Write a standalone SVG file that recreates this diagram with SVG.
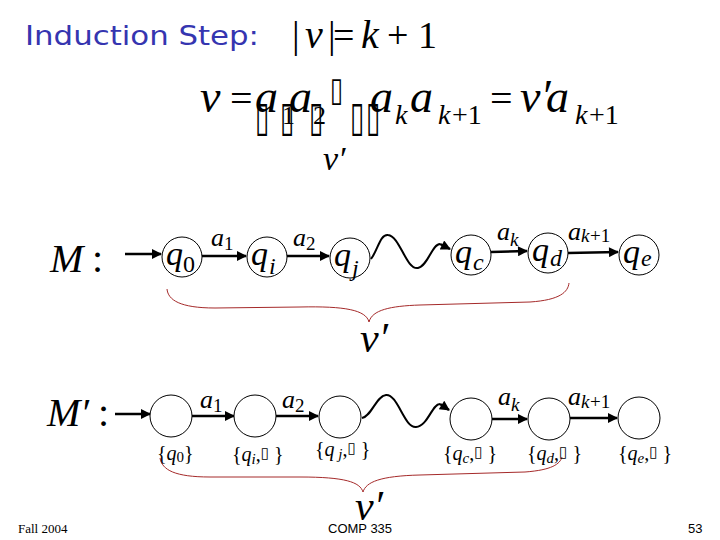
<svg xmlns="http://www.w3.org/2000/svg" width="720" height="540" viewBox="0 0 720 540">
<defs>
<style>
.m{font-family:"Liberation Serif","Tinos","Times New Roman","DejaVu Serif",serif;font-style:italic;fill:#000}
.r{font-family:"Liberation Serif","Tinos","Times New Roman","DejaVu Serif",serif;fill:#000}
.tofu{font-family:"DejaVu Sans",sans-serif;fill:#000}
.st{fill:#fff;stroke:#000;stroke-width:1}
.ed{fill:none;stroke:#000;stroke-width:2.5}
.wv{fill:none;stroke:#000;stroke-width:2}
.br{fill:none;stroke:#a52a2a;stroke-width:1}
.ft{font-family:"Liberation Sans",sans-serif;font-size:13px;fill:#000}
</style>
<marker id="ah" viewBox="0 0 10 10" refX="9" refY="5" markerWidth="5" markerHeight="4" markerUnits="strokeWidth" orient="auto">
<path d="M0,0 L10,5 L0,10 z" fill="#000"/>
</marker>
</defs>
<rect width="720" height="540" fill="#fff"/>

<g id="title">
<text x="25" y="45" font-family="DejaVu Sans, sans-serif" font-size="26" fill="#3535b0" textLength="234" lengthAdjust="spacingAndGlyphs">Induction Step:</text>
<text class="r" x="292" y="48" font-size="38">|</text>
<text class="m" x="305" y="48" font-size="40">v</text>
<text class="r" x="328" y="48" font-size="38">|</text>
<text class="r" x="333" y="48" font-size="38">=</text>
<text class="m" x="361" y="48" font-size="40">k</text>
<text class="r" x="387" y="48" font-size="38">+</text>
<text class="r" x="418" y="48" font-size="38">1</text>
</g>

<g id="equation">
<text class="m" x="200" y="112" font-size="46">v</text>
<text class="r" x="230" y="112" font-size="40">=</text>
<text class="m" x="255" y="112" font-size="46">a</text>
<text class="r" x="282" y="124" font-size="26">1</text>
<text class="m" x="289" y="112" font-size="46">a</text>
<text class="r" x="313" y="124" font-size="26">2</text>
<text class="tofu" font-size="24" transform="translate(330,101) scale(1,1.4)">▯</text>
<text class="tofu" font-size="26" transform="translate(255,131) scale(1,1.6)">▯</text>
<text class="tofu" font-size="26" transform="translate(280,131) scale(1,1.6)">▯</text>
<text class="tofu" font-size="26" transform="translate(309,131) scale(1,1.6)">▯</text>
<text class="tofu" font-size="26" transform="translate(350,131) scale(1,1.6)">▯</text>
<text class="tofu" font-size="26" transform="translate(366,131) scale(1,1.6)">▯</text>
<text class="m" x="370" y="112" font-size="46">a</text>
<text class="m" x="395" y="124" font-size="28">k</text>
<text class="m" x="410" y="112" font-size="46">a</text>
<text class="m" x="438" y="124" font-size="28">k</text>
<text class="r" x="452" y="124" font-size="28">+1</text>
<text class="r" x="490" y="112" font-size="40">=</text>
<text class="m" x="520" y="112" font-size="46">v′</text>
<text class="m" x="546" y="112" font-size="46">a</text>
<text class="m" x="575" y="124" font-size="28">k</text>
<text class="r" x="589" y="124" font-size="28">+1</text>
<text class="m" x="323" y="170" font-size="34">v′</text>
</g>

<g id="connectors">
<line class="ed" x1="125" y1="254" x2="161" y2="254" marker-end="url(#ah)"/>
<line class="ed" x1="202" y1="256" x2="246" y2="256" marker-end="url(#ah)"/>
<line class="ed" x1="287" y1="256" x2="329" y2="256" marker-end="url(#ah)"/>
<path class="wv" d="M371,259 C378,250 380,234 388,235 C400,236 406,270 418,268 C428,266 432,244 440,244" />
<line class="ed" x1="440" y1="244" x2="450" y2="249" marker-end="url(#ah)"/>
<line class="ed" x1="491" y1="252" x2="527" y2="251" marker-end="url(#ah)"/>
<line class="ed" x1="568" y1="253" x2="618" y2="252" marker-end="url(#ah)"/>

<line class="ed" x1="115" y1="414" x2="150" y2="414" marker-end="url(#ah)"/>
<line class="ed" x1="192" y1="416" x2="234" y2="416" marker-end="url(#ah)"/>
<line class="ed" x1="276" y1="416" x2="318" y2="416" marker-end="url(#ah)"/>
<path class="wv" d="M362,418 C372,416 376,396 386,395 C398,394 404,428 416,427 C428,426 432,404 440,404" />
<line class="ed" x1="440" y1="404" x2="449" y2="410" marker-end="url(#ah)"/>
<line class="ed" x1="492" y1="419" x2="527" y2="419" marker-end="url(#ah)"/>
<line class="ed" x1="570" y1="418" x2="617" y2="418" marker-end="url(#ah)"/>

<path class="br" d="M167,289 C168,300 180,308 215,308 L300,307 C345,306 366,310 369,322 C372,310 390,306 420,305 L530,302 C560,300 568,292 569,283"/>
<path class="br" d="M160,458 C162,470 175,477 210,477 L300,477 C345,477 360,482 363,492 C366,482 380,476 420,475 L525,472 C552,470 560,464 562,457"/>
</g>

<g id="labels">
<text class="m" x="50" y="272" font-size="40">M</text>
<text class="r" x="92" y="272" font-size="40">:</text>
<text class="m" x="211" y="246" font-size="26">a</text>
<text class="r" x="224" y="250" font-size="19">1</text>
<text class="m" x="293" y="246" font-size="26">a</text>
<text class="r" x="306" y="250" font-size="19">2</text>
<text class="m" x="497" y="240" font-size="26">a</text>
<text class="m" x="510" y="246" font-size="19">k</text>
<text class="m" x="568" y="240" font-size="26">a</text>
<text class="m" x="581" y="242" font-size="19">k</text>
<text class="r" x="590" y="242" font-size="19">+1</text>
<text class="m" x="360" y="352" font-size="42">v′</text>

<text class="m" x="47" y="426" font-size="40">M′</text>
<text class="r" x="98" y="426" font-size="40">:</text>
<text class="m" x="200" y="408" font-size="26">a</text>
<text class="r" x="213" y="412" font-size="19">1</text>
<text class="m" x="282" y="408" font-size="26">a</text>
<text class="r" x="295" y="412" font-size="19">2</text>
<text class="m" x="498" y="405" font-size="26">a</text>
<text class="m" x="511" y="411" font-size="19">k</text>
<text class="m" x="568" y="405" font-size="26">a</text>
<text class="m" x="581" y="408" font-size="19">k</text>
<text class="r" x="590" y="408" font-size="19">+1</text>
<text class="m" x="355" y="520" font-size="42">v′</text>
</g>

<g id="q0"><circle class="st" cx="182" cy="257" r="20"/><text class="m" x="166" y="265" font-size="34">q</text><text class="r" x="183" y="272" font-size="24">0</text></g>
<g id="qi"><circle class="st" cx="267" cy="257" r="20"/><text class="m" x="251" y="265" font-size="34">q</text><text class="m" x="269" y="274" font-size="24">i</text></g>
<g id="qj"><circle class="st" cx="350" cy="258" r="20"/><text class="m" x="334" y="266" font-size="34">q</text><text class="m" x="352" y="276" font-size="24">j</text></g>
<g id="qc"><circle class="st" cx="471" cy="255" r="20"/><text class="m" x="455" y="263" font-size="34">q</text><text class="m" x="473" y="270" font-size="24">c</text></g>
<g id="qd"><circle class="st" cx="548" cy="253" r="20"/><text class="m" x="532" y="261" font-size="34">q</text><text class="m" x="550" y="266" font-size="24">d</text></g>
<g id="qe"><circle class="st" cx="639" cy="255" r="20"/><text class="m" x="623" y="263" font-size="34">q</text><text class="m" x="641" y="266" font-size="24">e</text></g>

<g id="s0"><circle class="st" cx="171" cy="416" r="21"/><text class="r" x="157" y="460" font-size="20">{<tspan class="m">q</tspan><tspan font-size="15" dy="2">0</tspan><tspan dy="-2">}</tspan></text></g>
<g id="si"><circle class="st" cx="255" cy="416" r="21"/><text class="r" x="232" y="461" font-size="20">{<tspan class="m">q</tspan><tspan class="m" font-size="15" dy="3">i</tspan><tspan dy="-3">,</tspan><tspan class="tofu" font-size="15" dy="-3">▯</tspan><tspan dy="3">  }</tspan></text></g>
<g id="sj"><circle class="st" cx="340" cy="417" r="21"/><text class="r" x="315" y="456" font-size="20">{<tspan class="m">q</tspan><tspan class="m" font-size="15" dy="3"> j</tspan><tspan dy="-3">,</tspan><tspan class="tofu" font-size="15" dy="-3">▯</tspan><tspan dy="3">  }</tspan></text></g>
<g id="sc"><circle class="st" cx="471" cy="419" r="21"/><text class="r" x="443" y="460" font-size="20">{<tspan class="m">q</tspan><tspan class="m" font-size="15" dy="3">c</tspan><tspan dy="-3">,</tspan><tspan class="tofu" font-size="15" dy="-3">▯</tspan><tspan dy="3">  }</tspan></text></g>
<g id="sd"><circle class="st" cx="549" cy="419" r="21"/><text class="r" x="527" y="460" font-size="20">{<tspan class="m">q</tspan><tspan class="m" font-size="15" dy="3">d</tspan><tspan dy="-3">,</tspan><tspan class="tofu" font-size="15" dy="-3">▯</tspan><tspan dy="3">  }</tspan></text></g>
<g id="se"><circle class="st" cx="639" cy="418" r="21"/><text class="r" x="618" y="460" font-size="20">{<tspan class="m">q</tspan><tspan class="m" font-size="15" dy="3">e</tspan><tspan dy="-3">,</tspan><tspan class="tofu" font-size="15" dy="-3">▯</tspan><tspan dy="3">  }</tspan></text></g>

<g id="footer">
<text class="r" x="18" y="533" font-size="13">Fall 2004</text>
<text class="ft" x="328" y="533">COMP 335</text>
<text class="ft" x="688" y="533">53</text>
</g>
</svg>
